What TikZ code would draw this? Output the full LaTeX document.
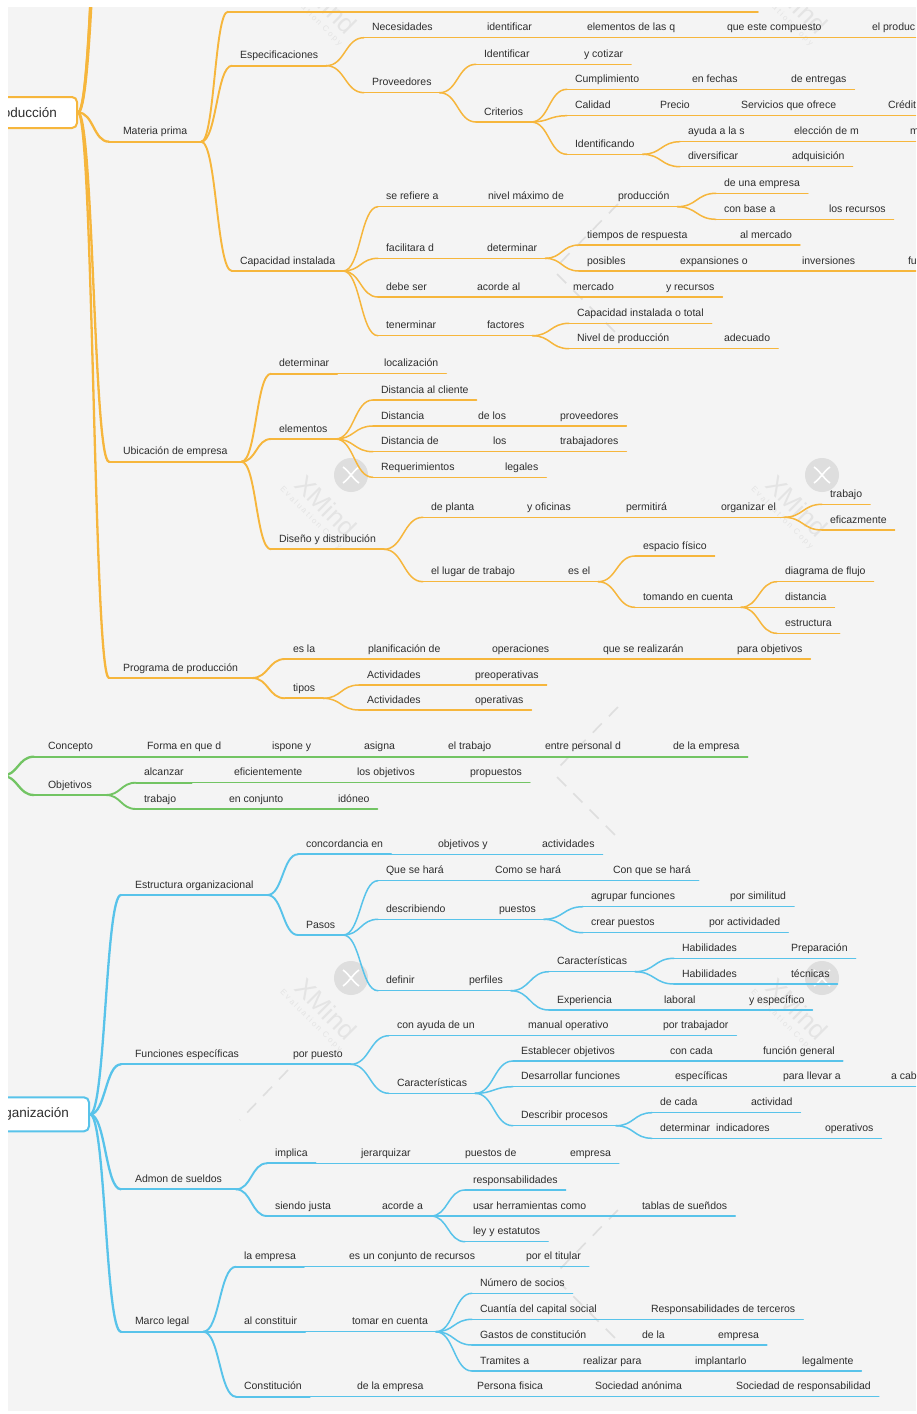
\documentclass[tikz,border=0pt]{standalone}
\usepackage{fontspec}
\setmainfont{Liberation Sans}
\newfontfamily\wmf[LetterSpace=25]{Liberation Sans}
\usetikzlibrary{calc}
\definecolor{bgc}{HTML}{F4F4F4}
\definecolor{org}{HTML}{F6B63C}
\definecolor{grn}{HTML}{72C463}
\definecolor{blu}{HTML}{58C3EA}
\definecolor{txt}{HTML}{2E2E2E}
\definecolor{wmc}{HTML}{DEDEDE}
\definecolor{wmt}{HTML}{E4E4E4}
\colorlet{brc}{org}
\tikzset{
 base/.style={anchor=south west, inner ysep=4.6pt, text height=7.6pt, text depth=2.4pt,
   font=\fontsize{10.5}{12}\selectfont, text=txt, outer sep=0pt},
 u1/.style={draw=brc, line width=2.3pt, line cap=round},
 u2/.style={draw=brc, line width=1.9pt, line cap=round},
 u3/.style={draw=brc, line width=1.5pt, line cap=round},
 t1/.style={base, xshift=-14pt, inner xsep=14pt},
 t2/.style={base, xshift=-8pt, inner xsep=8pt},
 t3/.style={base, xshift=-8pt, inner xsep=8pt},
 rootbox/.style={anchor=east, fill=white, line width=2pt, rounded corners=5pt, inner xsep=20pt,
   font=\fontsize{13.5}{16}\selectfont, text=txt},
 wmd/.style={draw=wmc, line width=1.6pt, dash pattern=on 13pt off 10pt}
}
\newcommand\crv[3][u3]{\draw[#1] let \p1=#2, \p2=#3 in (\p1) .. controls ({(\x1+\x2)/2},\y1) and ({(\x1+\x2)/2},\y2) .. (\p2);}
\newcommand\chn[3][u3]{\draw[#1] (#2.south east) -- (#3.south west);}
\newcommand\T[5][3]{\node[t#1] (#2) at (#3,#4) {#5};\draw[u#1] (#2.south west) -- (#2.south east);}
\begin{document}
\begin{tikzpicture}[x=1pt,y=-1pt]
\useasboundingbox (0,0) rectangle (916,1414);
\fill[white] (0,0) rectangle (916,1414);
\fill[bgc] (8,7) rectangle (916,1411);
\begin{scope}
\clip (8,7) rectangle (916,1411);
% watermark
\foreach \dy in {-503,0,503}{
 \foreach \dx in {0,471}{
  \begin{scope}[shift={(\dx,\dy)}]
   \fill[wmc] (351,475) circle[radius=17pt];
   \draw[white, line width=1.6pt] (343,467) .. controls (350,472) and (352,478) .. (359,483);
   \draw[white, line width=1.6pt] (359,467) .. controls (352,472) and (350,478) .. (343,483);
   \node[rotate=-45, text=wmt, font=\fontsize{26}{26}\selectfont] (wx) at (326,506) {XMind};
   \node[rotate=-45, text=wmt, font=\wmf\fontsize{8}{8}\selectfont] (we) at (311,518) {Evaluation Copy};
  \end{scope}
 }
 \draw[wmd] (618,{707+\dy}) -- (557,{769+\dy});
 \draw[wmd] (557,{777+\dy}) -- (618,{838+\dy});
}
\draw[wmd] (288,1070) -- (240,1120);

% ================= ORANGE =================
\begin{scope}
\colorlet{brc}{org}
\node[rootbox, draw=org, minimum height=31pt] (P) at (78,112.5) {oducción};
\coordinate (h1) at (112,-250); \coordinate (h2) at (116,-450); \coordinate (h3) at (121,-650);
\T[1]{mp}{123}{141.7}{Materia prima}
\T[1]{ub}{123}{461.7}{Ubicación de empresa}
\T[1]{pr}{123}{678}{Programa de producción}
\crv[u1]{(P.east)}{(h1)} \crv[u1]{(P.east)}{(h2)} \crv[u1]{(P.east)}{(h3)}
\crv[u1]{(P.east)}{(mp.south west)} \crv[u1]{(P.east)}{(ub.south west)} \crv[u1]{(P.east)}{(pr.south west)}
% Materia prima
\coordinate (mt1) at (228,11.7); \coordinate (mt2) at (758,11.7);
\crv[u2]{(mp.south east)}{(mt1)} \draw[u2] (mt1) -- (mt2);
\T[2]{es}{240}{65.7}{Especificaciones}
\T[2]{ci}{240}{271}{Capacidad instalada}
\crv[u2]{(mp.south east)}{(es.south west)} \crv[u2]{(mp.south east)}{(ci.south west)}
\T{ne}{372}{37.7}{Necesidades}
\T{id1}{487}{37.7}{identificar}
\T{el1}{587}{37.7}{elementos de las q}
\T{qe}{727}{37.7}{que este compuesto}
\T{epr}{872}{37.7}{el produc}
\crv{(es.south east)}{(ne.south west)} \chn{ne}{id1}\chn{id1}{el1}\chn{el1}{qe}\chn{qe}{epr}
\T{pv}{372}{92.7}{Proveedores}
\crv{(es.south east)}{(pv.south west)}
\T{idf}{484}{64.3}{Identificar}
\T{yc}{584}{64.3}{y cotizar}
\T{cr}{484}{122}{Criterios}
\crv{(pv.south east)}{(idf.south west)} \chn{idf}{yc} \crv{(pv.south east)}{(cr.south west)}
\T{cu}{575}{89.3}{Cumplimiento}
\T{ef}{692}{89.3}{en fechas}
\T{den}{791}{89.3}{de entregas}
\T{ca}{575}{115.7}{Calidad}
\T{pc}{660}{115.7}{Precio}
\T{sq}{741}{115.7}{Servicios que ofrece}
\T{cd}{888}{115.7}{Crédit}
\T{ic}{575}{154.3}{Identificando}
\crv{(cr.south east)}{(cu.south west)} \chn{cu}{ef}\chn{ef}{den}
\crv{(cr.south east)}{(ca.south west)} \chn{ca}{pc}\chn{pc}{sq}\chn{sq}{cd}
\crv{(cr.south east)}{(ic.south west)}
\T{ay}{688}{141.7}{ayuda a la s}
\T{em}{794}{141.7}{elección de m}
\T{mm}{910}{141.7}{m}
\T{dv}{688}{166.7}{diversificar}
\T{aq}{792}{166.7}{adquisición}
\crv{(ic.south east)}{(ay.south west)} \chn{ay}{em}\chn{em}{mm}
\crv{(ic.south east)}{(dv.south west)} \chn{dv}{aq}
% Capacidad instalada
\T{sr}{386}{206.7}{se refiere a}
\T{nm}{488}{206.7}{nivel máximo de}
\T{pd}{618}{206.7}{producción}
\T{ue}{724}{193.3}{de una empresa}
\T{cb}{724}{219.3}{con base a}
\T{lr}{829}{219.3}{los recursos}
\crv{(ci.south east)}{(sr.south west)} \chn{sr}{nm}\chn{nm}{pd}
\crv{(pd.south east)}{(ue.south west)} \crv{(pd.south east)}{(cb.south west)} \chn{cb}{lr}
\T{fd}{386}{258.3}{facilitara d}
\T{dt}{487}{258.3}{determinar}
\T{tr}{587}{245}{tiempos de respuesta}
\T{am}{740}{245}{al mercado}
\T{pos}{587}{271}{posibles}
\T{ex}{680}{271}{expansiones o}
\T{inv}{802}{271}{inversiones}
\T{fu}{908}{271}{fu}
\crv{(ci.south east)}{(fd.south west)} \chn{fd}{dt}
\crv{(dt.south east)}{(tr.south west)} \chn{tr}{am}
\crv{(dt.south east)}{(pos.south west)} \chn{pos}{ex}\chn{ex}{inv}\chn{inv}{fu}
\T{ds}{386}{297}{debe ser}
\T{aa}{477}{297}{acorde al}
\T{me}{573}{297}{mercado}
\T{yr}{666}{297}{y recursos}
\crv{(ci.south east)}{(ds.south west)} \chn{ds}{aa}\chn{aa}{me}\chn{me}{yr}
\T{tn}{386}{335.7}{tenerminar}
\T{fa}{487}{335.7}{factores}
\T{cit}{577}{323.3}{Capacidad instalada o total}
\T{np}{577}{348.7}{Nivel de producción}
\T{ad}{724}{348.7}{adecuado}
\crv{(ci.south east)}{(tn.south west)} \chn{tn}{fa}
\crv{(fa.south east)}{(cit.south west)} \crv{(fa.south east)}{(np.south west)} \chn{np}{ad}
% Ubicacion
\T[2]{dtl}{279}{373.7}{determinar}
\T{lo}{384}{373.7}{localización}
\crv[u2]{(ub.south east)}{(dtl.south west)} \chn{dtl}{lo}
\T[2]{ele}{279}{439}{elementos}
\crv[u2]{(ub.south east)}{(ele.south west)}
\T{dc}{381}{400}{Distancia al cliente}
\T{d2}{381}{426}{Distancia}
\T{dl}{478}{426}{de los}
\T{pv2}{560}{426}{proveedores}
\T{d3}{381}{451.7}{Distancia de}
\T{los}{493}{451.7}{los}
\T{tb}{560}{451.7}{trabajadores}
\T{rq}{381}{477.3}{Requerimientos}
\T{lg}{505}{477.3}{legales}
\crv{(ele.south east)}{(dc.south west)}
\crv{(ele.south east)}{(d2.south west)} \chn{d2}{dl}\chn{dl}{pv2}
\crv{(ele.south east)}{(d3.south west)} \chn{d3}{los}\chn{los}{tb}
\crv{(ele.south east)}{(rq.south west)} \chn{rq}{lg}
\T[2]{dd}{279}{549.3}{Diseño y distribución}
\crv[u2]{(ub.south east)}{(dd.south west)}
\T{dp}{431}{517.3}{de planta}
\T{yo}{527}{517.3}{y oficinas}
\T{pm}{626}{517.3}{permitirá}
\T{oe}{721}{517.3}{organizar el}
\T{tj}{830}{504.3}{trabajo}
\T{ez}{830}{530}{eficazmente}
\crv{(dd.south east)}{(dp.south west)} \chn{dp}{yo}\chn{yo}{pm}\chn{pm}{oe}
\crv{(oe.south east)}{(tj.south west)} \crv{(oe.south east)}{(ez.south west)}
\T{lt}{431}{581.7}{el lugar de trabajo}
\T{ee}{568}{581.7}{es el}
\T{efs}{643}{556}{espacio físico}
\T{tc}{643}{607.3}{tomando en cuenta}
\T{df}{785}{581.7}{diagrama de flujo}
\T{di}{785}{607.3}{distancia}
\T{et}{785}{633.3}{estructura}
\crv{(dd.south east)}{(lt.south west)} \chn{lt}{ee}
\crv{(ee.south east)}{(efs.south west)} \crv{(ee.south east)}{(tc.south west)}
\crv{(tc.south east)}{(df.south west)} \crv{(tc.south east)}{(di.south west)} \crv{(tc.south east)}{(et.south west)}
% Programa
\T[2]{esl}{293}{659}{es la}
\T{pl}{368}{659}{planificación de}
\T{op}{492}{659}{operaciones}
\T{qs}{603}{659}{que se realizarán}
\T{pob}{737}{659}{para objetivos}
\crv[u2]{(pr.south east)}{(esl.south west)} \chn{esl}{pl}\chn{pl}{op}\chn{op}{qs}\chn{qs}{pob}
\T[2]{ti}{293}{698.3}{tipos}
\T{a1}{367}{685}{Actividades}
\T{pre}{475}{685}{preoperativas}
\T{a2}{367}{710}{Actividades}
\T{ope}{475}{710}{operativas}
\crv[u2]{(pr.south east)}{(ti.south west)}
\crv{(ti.south east)}{(a1.south west)} \chn{a1}{pre}
\crv{(ti.south east)}{(a2.south west)} \chn{a2}{ope}
\end{scope}

% ================= GREEN =================
\begin{scope}
\colorlet{brc}{grn}
\coordinate (G) at (2,775.7);
\T[1]{co}{48}{756.7}{Concepto}
\T[2]{fq}{147}{756.7}{Forma en que d}
\T[2]{isp}{272}{756.7}{ispone y}
\T[2]{asi}{364}{756.7}{asigna}
\T[2]{etr}{448}{756.7}{el trabajo}
\T[2]{epd}{545}{756.7}{entre personal d}
\T[2]{dle}{673}{756.7}{de la empresa}
\crv[u1]{(G)}{(co.south west)}
\chn[u2]{co}{fq}\chn[u2]{fq}{isp}\chn[u2]{isp}{asi}\chn[u2]{asi}{etr}\chn[u2]{etr}{epd}\chn[u2]{epd}{dle}
\T[1]{ob}{48}{795}{Objetivos}
\crv[u1]{(G)}{(ob.south west)}
\T[2]{al}{144}{782.7}{alcanzar}
\T{efi}{234}{782.7}{eficientemente}
\T{lob}{357}{782.7}{los objetivos}
\T{pro}{470}{782.7}{propuestos}
\T[2]{tra}{144}{809}{trabajo}
\T{enc}{229}{809}{en conjunto}
\T{ido}{338}{809}{idóneo}
\crv[u2]{(ob.south east)}{(al.south west)} \chn{al}{efi}\chn{efi}{lob}\chn{lob}{pro}
\crv[u2]{(ob.south east)}{(tra.south west)} \chn{tra}{enc}\chn{enc}{ido}
\end{scope}

% ================= BLUE =================
\begin{scope}
\colorlet{brc}{blu}
\node[rootbox, draw=blu, minimum height=34pt] (O) at (90,1114.3) {ganización};
\T[1]{eo}{135}{895}{Estructura organizacional}
\T[1]{fe}{135}{1064.3}{Funciones específicas}
\T[2]{pp}{293}{1064.3}{por puesto}
\T[1]{adm}{135}{1189.3}{Admon de sueldos}
\T[1]{ml}{135}{1331.7}{Marco legal}
\crv[u1]{(O.east)}{(eo.south west)} \crv[u1]{(O.east)}{(fe.south west)}
\crv[u1]{(O.east)}{(adm.south west)} \crv[u1]{(O.east)}{(ml.south west)}
\chn[u2]{fe}{pp}
% Estructura
\T[2]{cn}{306}{854.3}{concordancia en}
\T{oy}{438}{854.3}{objetivos y}
\T{ac}{542}{854.3}{actividades}
\crv[u2]{(eo.south east)}{(cn.south west)} \chn{cn}{oy}\chn{oy}{ac}
\T[2]{pa}{306}{935}{Pasos}
\crv[u2]{(eo.south east)}{(pa.south west)}
\T{qh}{386}{880.7}{Que se hará}
\T{chr}{495}{880.7}{Como se hará}
\T{cq}{613}{880.7}{Con que se hará}
\crv{(pa.south east)}{(qh.south west)} \chn{qh}{chr}\chn{chr}{cq}
\T{db}{386}{919.3}{describiendo}
\T{pu}{499}{919.3}{puestos}
\T{ag}{591}{906.7}{agrupar funciones}
\T{ps}{730}{906.7}{por similitud}
\T{cp}{591}{932.7}{crear puestos}
\T{pac}{709}{932.7}{por actividaded}
\crv{(pa.south east)}{(db.south west)} \chn{db}{pu}
\crv{(pu.south east)}{(ag.south west)} \chn{ag}{ps}
\crv{(pu.south east)}{(cp.south west)} \chn{cp}{pac}
\T{dfn}{386}{990.7}{definir}
\T{pf}{469}{990.7}{perfiles}
\T{ct}{557}{971.7}{Características}
\T{h1n}{682}{958.3}{Habilidades}
\T{prp}{791}{958.3}{Preparación}
\T{h2n}{682}{984}{Habilidades}
\T{tec}{791}{984}{técnicas}
\T{xp}{557}{1010}{Experiencia}
\T{lab}{664}{1010}{laboral}
\T{ye}{749}{1010}{y específico}
\crv{(pa.south east)}{(dfn.south west)} \chn{dfn}{pf}
\crv{(pf.south east)}{(ct.south west)}
\crv{(ct.south east)}{(h1n.south west)} \chn{h1n}{prp}
\crv{(ct.south east)}{(h2n.south west)} \chn{h2n}{tec}
\crv{(pf.south east)}{(xp.south west)} \chn{xp}{lab}\chn{lab}{ye}
% Funciones
\T{cay}{397}{1035.7}{con ayuda de un}
\T{mo}{528}{1035.7}{manual operativo}
\T{ptr}{663}{1035.7}{por trabajador}
\crv{(pp.south east)}{(cay.south west)} \chn{cay}{mo}\chn{mo}{ptr}
\T{ct2}{397}{1093.3}{Características}
\crv{(pp.south east)}{(ct2.south west)}
\T{eob}{521}{1061}{Establecer objetivos}
\T{cc}{670}{1061}{con cada}
\T{fg}{763}{1061}{función general}
\T{dfu}{521}{1086.7}{Desarrollar funciones}
\T{es2}{675}{1086.7}{específicas}
\T{pll}{783}{1086.7}{para llevar a}
\T{acb}{891}{1086.7}{a cab}
\T{dpr}{521}{1125.7}{Describir procesos}
\T{dca}{660}{1112.7}{de cada}
\T{act}{751}{1112.7}{actividad}
\T{din}{660}{1138.3}{determinar\ \ indicadores}
\T{opv}{825}{1138.3}{operativos}
\crv{(ct2.south east)}{(eob.south west)} \chn{eob}{cc}\chn{cc}{fg}
\crv{(ct2.south east)}{(dfu.south west)} \chn{dfu}{es2}\chn{es2}{pll}\chn{pll}{acb}
\crv{(ct2.south east)}{(dpr.south west)}
\crv{(dpr.south east)}{(dca.south west)} \chn{dca}{act}
\crv{(dpr.south east)}{(din.south west)} \chn{din}{opv}
% Admon
\T[2]{im}{275}{1163.3}{implica}
\T{je}{361}{1163.3}{jerarquizar}
\T{pde}{465}{1163.3}{puestos de}
\T{emp}{570}{1163.3}{empresa}
\crv[u2]{(adm.south east)}{(im.south west)} \chn{im}{je}\chn{je}{pde}\chn{pde}{emp}
\T[2]{sj}{275}{1216}{siendo justa}
\T{aca}{382}{1216}{acorde a}
\crv[u2]{(adm.south east)}{(sj.south west)} \chn{sj}{aca}
\T{rs}{473}{1190}{responsabilidades}
\T{uh}{473}{1216}{usar herramientas como}
\T{ts}{642}{1216}{tablas de sueñdos}
\T{ley}{473}{1241.7}{ley y estatutos}
\crv{(aca.south east)}{(rs.south west)}
\crv{(aca.south east)}{(uh.south west)} \chn{uh}{ts}
\crv{(aca.south east)}{(ley.south west)}
% Marco legal
\T[2]{lae}{244}{1266.7}{la empresa}
\T{ecr}{349}{1266.7}{es un conjunto de recursos}
\T{ptt}{526}{1266.7}{por el titular}
\crv[u2]{(ml.south east)}{(lae.south west)} \chn{lae}{ecr}\chn{ecr}{ptt}
\T[2]{acn}{244}{1331.7}{al constituir}
\T{tec2}{352}{1331.7}{tomar en cuenta}
\crv[u2]{(ml.south east)}{(acn.south west)} \chn{acn}{tec2}
\T{nso}{480}{1293.3}{Número de socios}
\T{cs}{480}{1319.3}{Cuantía del capital social}
\T{rt}{651}{1319.3}{Responsabilidades de terceros}
\T{gc}{480}{1345}{Gastos de constitución}
\T{dla}{642}{1345}{de la}
\T{em2}{718}{1345}{empresa}
\T{tm}{480}{1371}{Tramites a}
\T{rp}{583}{1371}{realizar para}
\T{imp}{695}{1371}{implantarlo}
\T{lgl}{802}{1371}{legalmente}
\crv{(tec2.south east)}{(nso.south west)}
\crv{(tec2.south east)}{(cs.south west)} \chn{cs}{rt}
\crv{(tec2.south east)}{(gc.south west)} \chn{gc}{dla}\chn{dla}{em2}
\crv{(tec2.south east)}{(tm.south west)} \chn{tm}{rp}\chn{rp}{imp}\chn{imp}{lgl}
\T[2]{cns}{244}{1396.7}{Constitución}
\T{dle2}{357}{1396.7}{de la empresa}
\T{pfi}{477}{1396.7}{Persona fisica}
\T{san}{595}{1396.7}{Sociedad anónima}
\T{srr}{736}{1396.7}{Sociedad de responsabilidad}
\crv[u2]{(ml.south east)}{(cns.south west)} \chn{cns}{dle2}\chn{dle2}{pfi}\chn{pfi}{san}\chn{san}{srr}
\end{scope}
\end{scope}
\end{tikzpicture}
\end{document}
